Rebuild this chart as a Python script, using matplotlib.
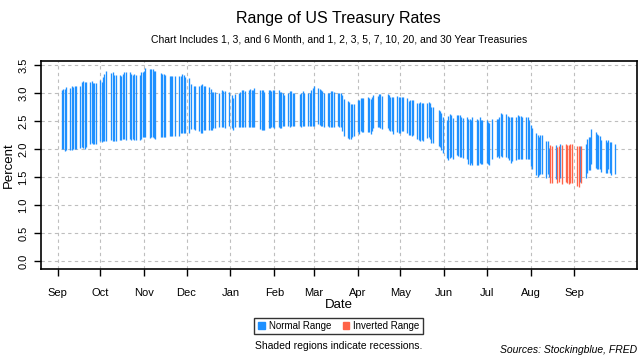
import matplotlib
matplotlib.use("Agg")
import matplotlib.pyplot as plt
from matplotlib.patches import Patch
import pandas as pd
import numpy as np

plt.rcParams['font.family'] = ['Liberation Sans', 'DejaVu Sans']

# trading days: weekdays minus bond market holidays
start, end = '2018-09-04', '2019-09-30'
holidays = ['2018-10-08', '2018-11-12', '2018-11-22', '2018-12-05', '2018-12-25',
            '2019-01-01', '2019-01-21', '2019-02-18', '2019-04-19', '2019-05-27',
            '2019-07-04', '2019-09-02']

# highest rate of the day (percent), week by week
highs = [
    3.05, 3.07, 3.07, 3.11,                 # Sep 4-7
    3.10, 3.13, 3.11, 3.12, 3.13,
    3.13, 3.20, 3.22, 3.20, 3.20,
    3.20, 3.22, 3.19, 3.18, 3.18,
    3.24, 3.20, 3.29, 3.35, 3.39,           # Oct 1-5
    3.36, 3.38, 3.32, 3.32,
    3.33, 3.31, 3.35, 3.37, 3.38,
    3.37, 3.35, 3.33, 3.34, 3.32,
    3.33, 3.37, 3.38, 3.39, 3.45,
    3.43, 3.43, 3.43, 3.40, 3.39,           # Nov 5-9
    3.36, 3.35, 3.35, 3.32,
    3.31, 3.30, 3.30, 3.30,
    3.30, 3.31, 3.34, 3.33, 3.29,
    3.27, 3.16, 3.13, 3.13,                 # Dec 3-7
    3.13, 3.15, 3.16, 3.13, 3.13,
    3.11, 3.07, 3.02, 3.02, 3.02,
    3.01, 3.05, 3.04, 3.03,
    3.02, 2.96, 2.92, 2.98,
    3.01, 3.02, 3.06, 3.06, 3.04,           # Jan 7-11
    3.06, 3.08, 3.06, 3.06, 3.10,
    3.05, 3.05, 3.05, 3.02,
    3.05, 3.05, 3.04, 3.06, 3.05,
    3.05, 3.02, 3.02, 3.00, 2.97,           # Feb 4-8
    3.00, 3.03, 3.04, 3.01, 3.00,
    2.99, 3.01, 3.04, 3.01,
    3.01, 3.00, 3.05, 3.09, 3.13,
    3.09, 3.07, 3.06, 3.03, 3.00,           # Mar 4-8
    3.01, 3.00, 3.03, 3.04, 3.02,
    3.00, 3.01, 3.00, 2.96, 2.90,
    2.86, 2.84, 2.81, 2.81, 2.81,
    2.88, 2.88, 2.92, 2.92, 2.92,           # Apr 1-5
    2.93, 2.92, 2.90, 2.94, 2.97,
    2.95, 2.99, 2.99, 2.95,
    2.98, 2.97, 2.94, 2.94, 2.93,
    2.95, 2.94, 2.93, 2.94, 2.93,
    2.91, 2.86, 2.88, 2.87, 2.88,           # May 6-10
    2.82, 2.83, 2.85, 2.82, 2.82,
    2.83, 2.85, 2.82, 2.76, 2.76,
    2.70, 2.68, 2.65, 2.58,
    2.52, 2.60, 2.62, 2.61, 2.56,           # Jun 3-7
    2.61, 2.61, 2.61, 2.58, 2.56,
    2.58, 2.54, 2.54, 2.52, 2.57,
    2.54, 2.52, 2.57, 2.52, 2.52,
    2.52, 2.49, 2.46, 2.54,                 # Jul 1-5
    2.53, 2.54, 2.58, 2.64, 2.62,
    2.62, 2.60, 2.57, 2.57, 2.58,
    2.58, 2.61, 2.59, 2.59, 2.58,
    2.58, 2.58, 2.52, 2.44, 2.38,
    2.28, 2.25, 2.21, 2.25, 2.25,           # Aug 5-9
    2.14, 2.14, 2.02, 2.07, 2.06,
    2.07, 2.04, 2.06, 2.10, 2.07,
    2.09, 2.07, 2.08, 2.09, 2.09,
    2.05, 2.05, 2.05, 2.05,                 # Sep 3-6
    2.10, 2.18, 2.21, 2.21, 2.36,
    2.30, 2.27, 2.25, 2.23, 2.16,
    2.16, 2.13, 2.16, 2.13, 2.12,
    2.10,
]

# lowest rate of the day (percent)
lows = [
    2.00, 2.00, 1.97, 1.98,
    1.98, 1.99, 2.00, 2.00, 2.00,
    2.02, 2.03, 2.02, 2.01, 2.03,
    2.10, 2.11, 2.09, 2.10, 2.10,
    2.14, 2.13, 2.15, 2.15, 2.15,
    2.17, 2.15, 2.14, 2.15,
    2.16, 2.17, 2.18, 2.18, 2.17,
    2.18, 2.17, 2.18, 2.17, 2.16,
    2.16, 2.18, 2.21, 2.21, 2.21,
    2.20, 2.21, 2.22, 2.20, 2.19,
    2.22, 2.22, 2.22, 2.22,
    2.23, 2.23, 2.23, 2.24,
    2.23, 2.29, 2.29, 2.29, 2.29,
    2.28, 2.36, 2.36, 2.34,
    2.32, 2.28, 2.29, 2.34, 2.34,
    2.35, 2.34, 2.35, 2.37, 2.37,
    2.40, 2.40, 2.40, 2.37,
    2.42, 2.38, 2.35, 2.39,
    2.40, 2.40, 2.40, 2.40, 2.40,
    2.40, 2.40, 2.40, 2.40, 2.39,
    2.36, 2.35, 2.35, 2.35,
    2.38, 2.37, 2.39, 2.39, 2.37,
    2.40, 2.38, 2.38, 2.41, 2.42,
    2.42, 2.40, 2.42, 2.42, 2.42,
    2.42, 2.40, 2.42, 2.42,
    2.42, 2.42, 2.42, 2.42, 2.42,
    2.45, 2.43, 2.42, 2.42, 2.40,
    2.42, 2.40, 2.40, 2.40, 2.39,
    2.42, 2.40, 2.40, 2.33, 2.23,
    2.20, 2.18, 2.18, 2.21, 2.23,
    2.30, 2.27, 2.32, 2.31, 2.30,
    2.31, 2.30, 2.27, 2.32, 2.37,
    2.39, 2.39, 2.38, 2.36,
    2.37, 2.34, 2.32, 2.32, 2.27,
    2.30, 2.28, 2.29, 2.32, 2.32,
    2.29, 2.26, 2.26, 2.24, 2.26,
    2.18, 2.17, 2.14, 2.17, 2.15,
    2.20, 2.21, 2.18, 2.11, 2.11,
    2.05, 2.03, 1.99, 1.93,
    1.84, 1.81, 1.85, 1.86, 1.83,
    1.90, 1.88, 1.86, 1.86, 1.85,
    1.83, 1.74, 1.72, 1.75, 1.72,
    1.71, 1.71, 1.75, 1.74, 1.73,
    1.75, 1.74, 1.71, 1.83,
    1.86, 1.87, 1.84, 1.87, 1.86,
    1.86, 1.84, 1.80, 1.76, 1.79,
    1.80, 1.82, 1.83, 1.83, 1.83,
    1.83, 1.83, 1.82, 1.70, 1.65,
    1.54, 1.51, 1.54, 1.55, 1.56,
    1.48, 1.55, 1.51, 1.40, 1.40,
    1.46, 1.40, 1.42, 1.48, 1.38,
    1.42, 1.39, 1.37, 1.39, 1.39,
    1.34, 1.32, 1.42, 1.40,
    1.48, 1.57, 1.62, 1.62, 1.74,
    1.67, 1.65, 1.65, 1.64, 1.60,
    1.58, 1.58, 1.65, 1.58, 1.54,
    1.55,
]

# days on which the curve was inverted
inverted_days = ['2019-08-15', '2019-08-16', '2019-08-20', '2019-08-21', '2019-08-23',
                 '2019-08-26', '2019-08-27', '2019-08-28', '2019-08-29', '2019-08-30',
                 '2019-09-03', '2019-09-04', '2019-09-06']

month_labels = ['Sep', 'Oct', 'Nov', 'Dec', 'Jan', 'Feb', 'Mar', 'Apr',
                'May', 'Jun', 'Jul', 'Aug', 'Sep']

days = pd.bdate_range(start, end)
days = days[~days.isin(pd.to_datetime(holidays))]
assert len(days) == len(highs) == len(lows), (len(days), len(highs), len(lows))

df = pd.DataFrame({'date': days, 'low': lows, 'high': highs})
df['inv'] = df['date'].isin(pd.to_datetime(inverted_days))

blue = '#1E90FF'
red = '#FF6347'

fig = plt.figure(figsize=(6.4, 3.6), dpi=100)
ax = fig.add_axes([40.7 / 640, 1 - 269 / 360, 596 / 640, (269 - 60.7) / 360])

norm = df[~df['inv']]
inv = df[df['inv']]
ax.vlines(norm['date'], norm['low'], norm['high'], color=blue, lw=0.95, zorder=3)
ax.vlines(inv['date'], inv['low'], inv['high'], color=red, lw=0.95, zorder=3)

ax.set_xlim(pd.Timestamp('2018-08-20'), pd.Timestamp('2019-10-15'))
ax.set_ylim(-0.14, 3.58)

month_ticks = pd.date_range('2018-09-01', '2019-09-01', freq='MS')
ax.set_xticks(month_ticks)
ax.set_xticklabels(month_labels)
ax.set_yticks(np.arange(0, 3.51, 0.5))
ax.set_yticklabels(['%.1f' % v for v in np.arange(0, 3.51, 0.5)],
                   rotation=90, va='center')

ax.grid(True, color='#BEBEBE', linestyle=(0, (3, 3)), lw=0.8, zorder=0)
ax.tick_params(axis='x', length=5, width=1, pad=9, labelsize=8)
ax.tick_params(axis='y', length=5, width=1, pad=4, labelsize=8)
for s in ax.spines.values():
    s.set_linewidth(1.2)

cx = 338.7 / 640
fig.text(cx, 1 - 18 / 360, 'Range of US Treasury Rates', ha='center', va='center', fontsize=11.5)
fig.text(cx, 1 - 40 / 360,
         'Chart Includes 1, 3, and 6 Month, and 1, 2, 3, 5, 7, 10, 20, and 30 Year Treasuries',
         ha='center', va='center', fontsize=7.5)
fig.text(cx, 1 - 305 / 360, 'Date', ha='center', va='center', fontsize=9.5)
fig.text(9 / 640, 1 - 165 / 360, 'Percent', ha='center', va='center', rotation=90, fontsize=9.5)

handles = [Patch(color=blue, label='Normal Range'), Patch(color=red, label='Inverted Range')]
leg = fig.legend(handles=handles, loc='center', bbox_to_anchor=(cx, 1 - 326 / 360), ncol=2,
                 fontsize=7, frameon=True, fancybox=False, edgecolor='black',
                 handlelength=0.7, handleheight=0.7, handletextpad=0.4,
                 columnspacing=1.2, borderpad=0.35)
leg.get_frame().set_linewidth(1.0)

fig.text(cx, 1 - 346 / 360, 'Shaded regions indicate recessions.', ha='center', va='center', fontsize=7.5)
fig.text(637 / 640, 1 - 350 / 360, 'Sources: Stockingblue, FRED', ha='right', va='center',
         fontsize=7.5, style='italic')

fig.savefig('out.png', dpi=100)
